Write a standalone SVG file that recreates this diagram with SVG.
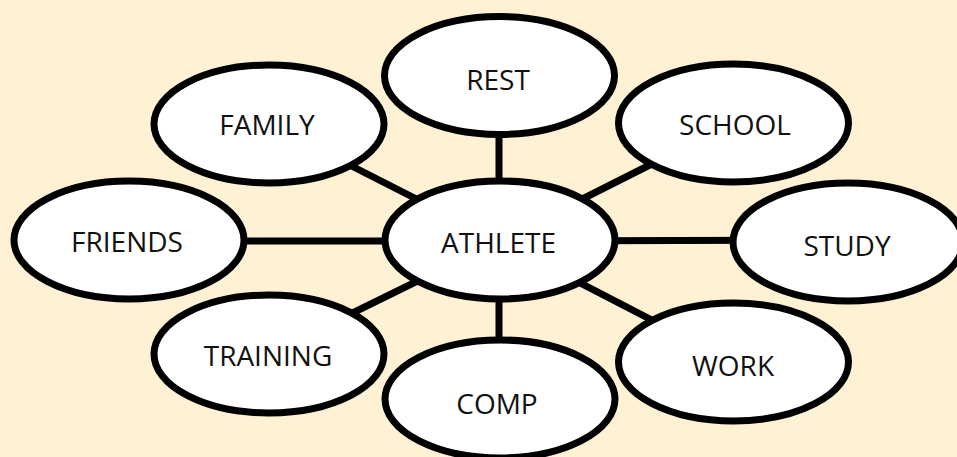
<svg xmlns="http://www.w3.org/2000/svg" width="957" height="457" viewBox="0 0 957 457">
<style>
.bg{fill:#fef1d4}
.conn line{stroke:#000;stroke-width:7}
.node ellipse{fill:#fff;stroke:#000;stroke-width:7}
.node text{font-family:"Open Sans","Liberation Sans",sans-serif;font-size:28px;fill:#111;text-anchor:middle}
</style>
<rect class="bg" x="0" y="0" width="957" height="457"/>
<g id="connectors" class="conn">
<line x1="499" y1="76" x2="499" y2="241"/>
<line x1="269" y1="124" x2="499" y2="241"/>
<line x1="733" y1="123" x2="499" y2="241"/>
<line x1="129" y1="241" x2="499" y2="241"/>
<line x1="848" y1="240" x2="499" y2="241"/>
<line x1="269" y1="354" x2="499" y2="241"/>
<line x1="499" y1="399" x2="499" y2="241"/>
<line x1="733" y1="362" x2="499" y2="241"/>
</g>
<g id="rest" class="node"><ellipse cx="499.5" cy="75.5" rx="115" ry="59"/><text x="498" y="90">REST</text></g>
<g id="family" class="node"><ellipse cx="269" cy="124" rx="115" ry="59"/><text x="267" y="135">FAMILY</text></g>
<g id="school" class="node"><ellipse cx="733.5" cy="123" rx="115" ry="59"/><text x="735" y="135">SCHOOL</text></g>
<g id="friends" class="node"><ellipse cx="129" cy="240" rx="115" ry="59"/><text x="127" y="252">FRIENDS</text></g>
<g id="athlete" class="node"><ellipse cx="500" cy="240" rx="115" ry="59"/><text x="498.5" y="253">ATHLETE</text></g>
<g id="study" class="node"><ellipse cx="848" cy="242" rx="115" ry="59"/><text x="847" y="256">STUDY</text></g>
<g id="training" class="node"><ellipse cx="269" cy="354" rx="115" ry="59"/><text x="268" y="366">TRAINING</text></g>
<g id="comp" class="node"><ellipse cx="500" cy="399" rx="115" ry="59"/><text x="497" y="414">COMP</text></g>
<g id="work" class="node"><ellipse cx="733.5" cy="362" rx="115" ry="59"/><text x="733" y="376">WORK</text></g>
</svg>
